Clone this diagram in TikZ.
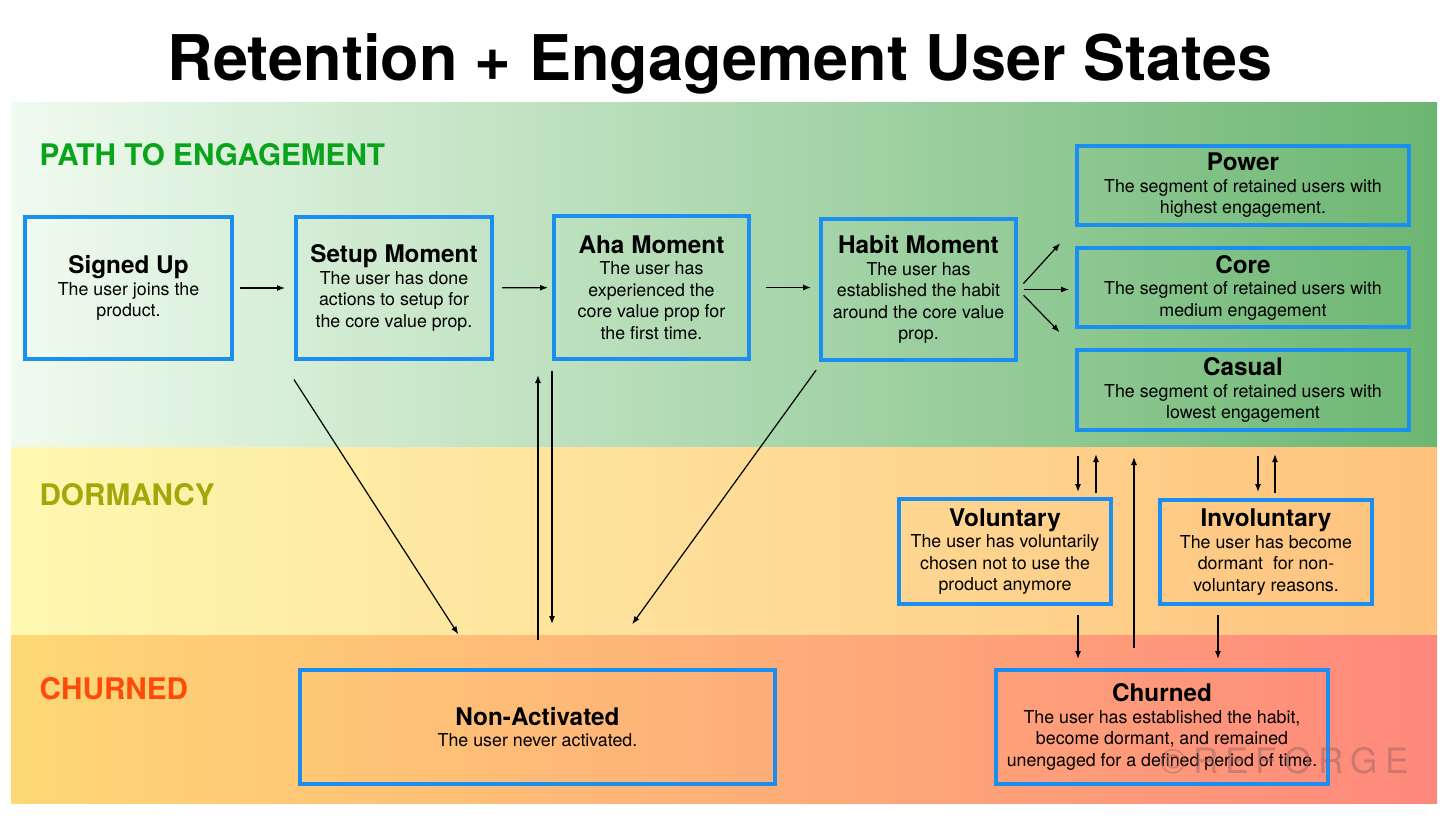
\documentclass[tikz,border=0pt]{standalone}
\usepackage{fontspec}
\setmainfont{TeX Gyre Heros}
\usetikzlibrary{arrows.meta}
\definecolor{boxblue}{HTML}{1B8EF2}
\definecolor{greenL}{HTML}{F0FBEF}
\definecolor{greenR}{HTML}{6CB672}
\definecolor{yellowL}{HTML}{FEF8B0}
\definecolor{yellowR}{HTML}{FEC27E}
\definecolor{redL}{HTML}{FED875}
\definecolor{redR}{HTML}{FE887C}
\definecolor{pathgreen}{HTML}{0AA31C}
\definecolor{dormolive}{HTML}{A3A80A}
\definecolor{churnred}{HTML}{FE4A0A}
\tikzset{
  state/.style={draw=boxblue, line width=4pt, align=center, inner sep=0pt,
    font=\fontsize{17.8}{21.5}\selectfont},
  arr/.style={-{Latex[length=8pt,width=6pt]}, line width=1.2pt},
  band label/.style={anchor=base west, font=\fontsize{29.7}{33}\selectfont\bfseries},
}
\newcommand{\hd}[1]{{\fontsize{24.3}{27}\selectfont\bfseries #1}}

\begin{document}
\begin{tikzpicture}[x=1pt, y=-1pt]
\useasboundingbox[fill=white] (0,0) rectangle (1456,816);
%bands
\foreach \ya/\yb/\cl/\cr in {102/447/greenL/greenR, 447/635/yellowL/yellowR, 635/803/redL/redR}
  {\shade[left color=\cl, right color=\cr] (11,\ya) rectangle (1437,\yb);}

\node[anchor=base, font=\fontsize{63}{70}\selectfont\bfseries] (title) at (720,81) {Retention + Engagement User States};
\node[band label, text=pathgreen] (lpath) at (36,165) {PATH TO ENGAGEMENT};
\node[band label, text=dormolive] (ldorm) at (36,505) {DORMANCY};
\node[band label, text=churnred] (lchurn) at (36,699) {CHURNED};

%path to engagement
\node[state, minimum width=207pt, minimum height=142pt] (signed) at (128.5,288) {\hd{Signed Up}\\The user joins the\\product.};
\node[state, minimum width=196pt, minimum height=142pt] (setup) at (394,288) {\hd{Setup Moment}\\The user has done\\actions to setup for\\the core value prop.};
\node[state, minimum width=195pt, minimum height=143pt] (aha) at (651.5,287.5) {\hd{Aha Moment}\\The user has\\experienced the\\core value prop for\\the first time.};
\node[state, minimum width=195pt, minimum height=141pt] (habit) at (918.5,289.5) {\hd{Habit Moment}\\The user has\\established the habit\\around the core value\\prop.};
\node[state, minimum width=332pt, minimum height=79pt] (power) at (1243,185.5) {\hd{Power}\\The segment of retained users with\\highest engagement.};
\node[state, minimum width=332pt, minimum height=79pt] (core) at (1243,287.5) {\hd{Core}\\The segment of retained users with\\medium engagement};
\node[state, minimum width=332pt, minimum height=80pt] (casual) at (1243,390) {\hd{Casual}\\The segment of retained users with\\lowest engagement};

%dormancy
\node[state, minimum width=212pt, minimum height=105pt] (voluntary) at (1005,551.5) {\hd{Voluntary}\\The user has voluntarily\\chosen not to use the\\product anymore};
\node[state, minimum width=212pt, minimum height=104pt] (involuntary) at (1266,552) {\hd{Involuntary}\\The user has become\\dormant\ \ for non-\\voluntary reasons.};

%churned
\node[state, minimum width=475pt, minimum height=114pt] (noact) at (537.5,727) {\hd{Non-Activated}\\The user never activated.};
\node[state, minimum width=332pt, minimum height=114pt] (churned) at (1162,727) {\hd{Churned}\\The user has established the habit,\\become dormant, and remained\\unengaged for a defined period of time.};

\node[anchor=base west, text=gray!80!red, opacity=0.5, font=\fontsize{35}{40}\selectfont] (mark) at (1157,773)
  {©\kern7pt R\kern7pt E\kern7pt F\kern7pt O\kern7pt R\kern7pt G\kern7pt E};

%arrows
\draw[arr, shorten <=6pt, shorten >=9pt] (signed) -- (setup);
\draw[arr, shorten <=8pt, shorten >=4pt] (setup) -- (aha);
\draw[arr, shorten <=15pt, shorten >=8pt] (aha.east) -- (aha.east -| habit.west);
\draw[arr, shorten <=8pt, shorten >=22pt] (habit.east) -- (power.south west);
\draw[arr, shorten <=6pt, shorten >=6pt] (habit.east) -- (habit.east -| core.west);
\draw[arr, shorten <=8pt, shorten >=22pt] (habit.east) -- (casual.north west);
\draw[arr, shorten <=22pt, shorten >=40pt] ([xshift=-12pt]setup.south west) -- ([xshift=-57.5pt]noact.north);
\draw[arr, shorten <=28pt, shorten >=14pt] ([xshift=0.5pt]noact.north) -- ([xshift=0.5pt]noact.north |- aha.south);
\draw[arr, shorten <=10pt, shorten >=44pt] (aha.south west) -- (aha.south west |- noact.north);
\draw[arr, shorten <=10pt, shorten >=54pt] ([xshift=3pt]habit.south west) -- ([xshift=63pt]noact.north);
\draw[arr, shorten <=24pt, shorten >=5pt] ([xshift=3pt]casual.south west) -- ([xshift=3pt]casual.south west |- voluntary.north);
\draw[arr, shorten <=4pt, shorten >=22pt] ([xshift=91pt]voluntary.north) -- ([xshift=91pt]voluntary.north |- casual.south);
\draw[arr, shorten <=24pt, shorten >=6pt] ([xshift=-8pt]involuntary.north |- casual.south) -- ([xshift=-8pt]involuntary.north);
\draw[arr, shorten <=5pt, shorten >=22pt] ([xshift=9pt]involuntary.north) -- ([xshift=9pt]involuntary.north |- casual.south);
\draw[arr, shorten <=9pt, shorten >=9pt] ([xshift=73pt]voluntary.south) -- ([xshift=73pt]voluntary.south |- churned.north);
\draw[arr, shorten <=9pt, shorten >=9pt] ([xshift=-48pt]involuntary.south) -- ([xshift=-48pt]involuntary.south |- churned.north);
\draw[arr, shorten <=20pt, shorten >=25pt] ([xshift=-28pt]churned.north) -- ([xshift=-28pt]churned.north |- casual.south);
\end{tikzpicture}
\end{document}
